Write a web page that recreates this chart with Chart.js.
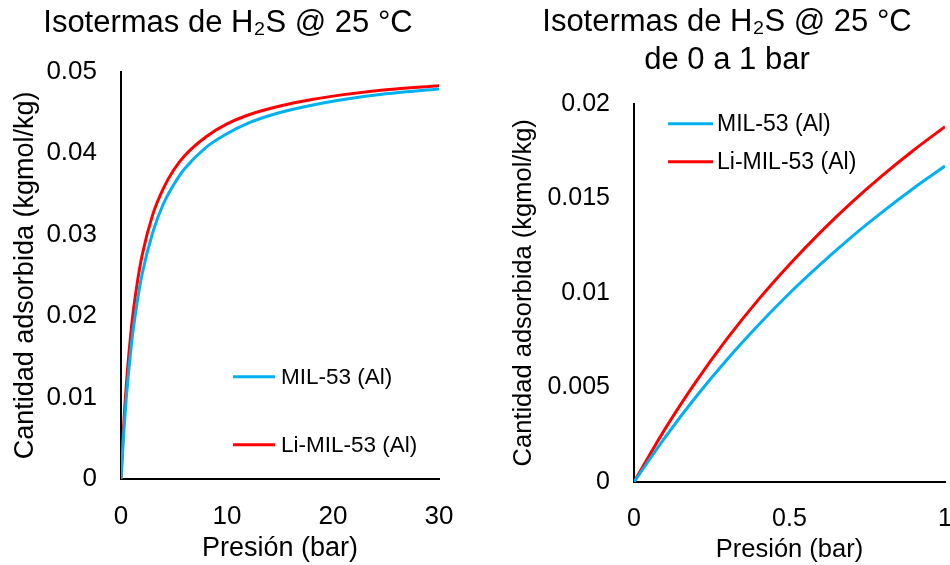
<!DOCTYPE html>
<html>
<head>
<meta charset="utf-8">
<script src="https://cdn.jsdelivr.net/npm/chart.js@4/dist/chart.umd.min.js"></script>
<style>
  body { margin: 0; background: #fff; }
  #wrap { position: relative; width: 950px; height: 565px; overflow: hidden; }
  #wrap canvas { position: absolute; top: 0; }
</style>
</head>
<body>
<div id="wrap">
  <canvas id="iso30" width="475" height="565" style="left:0"></canvas>
  <canvas id="iso1" width="460" height="565" style="left:490px"></canvas>
</div>
<script>
// H2S isotherms at 25 °C, 0-30 bar
const presion30 = [0, 0.25, 0.5, 1, 1.5, 2, 3, 4, 5, 6, 8, 10, 12, 15, 18, 21, 25, 30];
const mil53_30 = [0, 0.0055, 0.0100, 0.0167, 0.0215, 0.0252, 0.0303, 0.0338, 0.0362, 0.0381, 0.0407, 0.0424, 0.0437, 0.0450, 0.0459, 0.0466, 0.0473, 0.0479];
const liMil53_30 = [0, 0.0065, 0.0115, 0.0188, 0.0238, 0.0275, 0.0325, 0.0357, 0.0380, 0.0397, 0.0420, 0.0436, 0.0447, 0.0458, 0.0466, 0.0472, 0.0478, 0.0483];

// same isotherms, 0-1 bar
const presion1 = [0, 0.1, 0.2, 0.3, 0.4, 0.5, 0.6, 0.7, 0.8, 0.9, 1];
const mil53_1 = [0, 0.00236, 0.00452, 0.00649, 0.00830, 0.00998, 0.01152, 0.01296, 0.01429, 0.01554, 0.0167];
const liMil53_1 = [0, 0.00281, 0.00532, 0.00759, 0.00964, 0.0115, 0.01321, 0.01478, 0.01622, 0.01755, 0.01878];

const seriesNames = ["MIL-53 (Al)", "Li-MIL-53 (Al)"];
const seriesColors = ["#00B0F0", "#FF0000"];
const titleLine = "Isotermas de H\u2082S @ 25 \u00B0C";

const FONT = "'Liberation Sans', Arial, sans-serif";

function points(xs, ys) {
  return xs.map((x, i) => ({ x: x, y: ys[i] }));
}

// plain tick text: 0.02 not 0.020, 1 not 1.0
function plainTick(v) {
  return String(parseFloat(v.toFixed(4)));
}

// legend drawn inside the plot area, one entry per dataset
const insideLegend = {
  id: 'insideLegend',
  afterDatasetsDraw(chart, args, opts) {
    const ctx = chart.ctx;
    const area = chart.chartArea;
    ctx.save();
    ctx.font = opts.fontSize + 'px ' + FONT;
    ctx.textBaseline = 'middle';
    ctx.fillStyle = '#000';
    chart.data.datasets.forEach((ds, i) => {
      const x = area.left + opts.x;
      const y = area.top + opts.y + i * opts.gap;
      ctx.strokeStyle = ds.borderColor;
      ctx.lineWidth = 3;
      ctx.beginPath();
      ctx.moveTo(x, y);
      ctx.lineTo(x + opts.lineLen, y);
      ctx.stroke();
      ctx.fillText(ds.label, x + opts.lineLen + opts.textGap, y + 1);
    });
    ctx.restore();
  }
};

function makeChart(id, cfg) {
  return new Chart(document.getElementById(id), {
    type: 'line',
    data: {
      datasets: [
        { label: seriesNames[0], data: points(cfg.x, cfg.a), borderColor: seriesColors[0] },
        { label: seriesNames[1], data: points(cfg.x, cfg.b), borderColor: seriesColors[1] }
      ]
    },
    options: {
      responsive: false,
      animation: false,
      locale: 'en-US',
      layout: { padding: cfg.padding },
      elements: {
        point: { radius: 0 },
        line: { borderWidth: 3, cubicInterpolationMode: 'monotone', fill: false }
      },
      plugins: {
        legend: { display: false },
        tooltip: { enabled: false },
        title: {
          display: true,
          text: cfg.title,
          color: '#000',
          font: { family: FONT, size: 31, weight: 'normal', lineHeight: 1.22 },
          padding: cfg.titlePad
        },
        insideLegend: cfg.legend
      },
      scales: {
        x: {
          type: 'linear',
          min: 0, max: cfg.xMax,
          grid: { display: false, drawTicks: false },
          border: { display: true, color: '#000', width: 2 },
          ticks: { stepSize: cfg.xStep, color: '#000', padding: cfg.xTickPad, callback: plainTick,
                   font: { family: FONT, size: cfg.tickSize } },
          title: { display: true, text: 'Presión (bar)', color: '#000', padding: { top: 0, bottom: 0 },
                   font: { family: FONT, size: cfg.axisSize } },
          afterFit: s => { s.height = cfg.xHeight; s.paddingLeft = 0; s.paddingRight = 0; }
        },
        y: {
          min: 0, max: cfg.yMax,
          grid: { display: false, drawTicks: false },
          border: { display: true, color: '#000', width: 2 },
          ticks: { stepSize: cfg.yStep, color: '#000', padding: 24, callback: plainTick,
                   font: { family: FONT, size: cfg.tickSize } },
          title: { display: true, text: 'Cantidad adsorbida (kgmol/kg)', color: '#000',
                   padding: { top: cfg.yTitlePad, bottom: 0 }, font: { family: FONT, size: cfg.axisSize } },
          afterFit: s => { s.width = cfg.yWidth; }
        }
      }
    },
    plugins: [insideLegend]
  });
}

makeChart('iso30', {
  x: presion30, a: mil53_30, b: liMil53_30,
  xMax: 30, xStep: 10, yMax: 0.05, yStep: 0.01,
  title: titleLine,
  titlePad: { top: 5, bottom: 29 },
  padding: { left: 17, right: 36, top: 0, bottom: 0 },
  yWidth: 104, xHeight: 86, xTickPad: 22, yTitlePad: -8,
  tickSize: 26, axisSize: 27,
  legend: { x: 112, y: 305, gap: 68, lineLen: 42, textGap: 6, fontSize: 22.5 }
});

makeChart('iso1', {
  x: presion1, a: mil53_1, b: liMil53_1,
  xMax: 1, xStep: 0.5, yMax: 0.02, yStep: 0.005,
  title: [titleLine, 'de 0 a 1 bar'],
  titlePad: { top: 4, bottom: 24 },
  padding: { left: 19, right: 5, top: 0, bottom: 0 },
  yWidth: 125, xHeight: 83, xTickPad: 22, yTitlePad: 0,
  tickSize: 25, axisSize: 25.5,
  legend: { x: 34, y: 20, gap: 38, lineLen: 45, textGap: 4, fontSize: 23 }
});
</script>
</body>
</html>
